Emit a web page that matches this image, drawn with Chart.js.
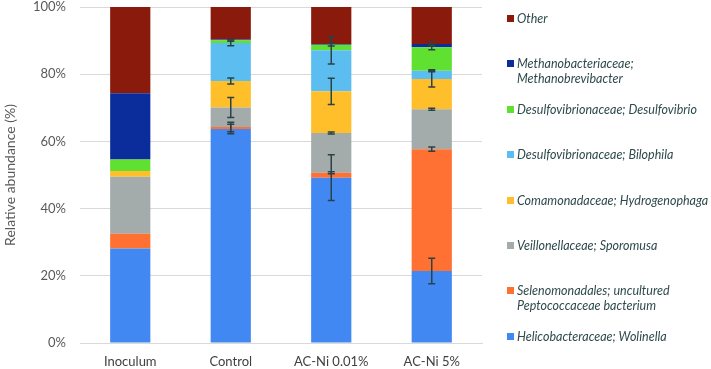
<!DOCTYPE html>
<html lang="en">
<head>
  <meta charset="UTF-8" />
  <title>Relative abundance</title>
  <script src="https://cdn.jsdelivr.net/npm/chart.js"></script>
  <style>
    body {
      margin: 0;
      padding: 0;
      background: #ffffff;
      font-family: Lato, "Open Sans", sans-serif;
    }
    .wrap {
      position: relative;
      width: 711px;
      height: 369px;
    }
    #legend {
      position: absolute;
      left: 507px;
      top: 11px;
      margin: 0;
      padding: 0;
      list-style: none;
    }
    #legend li {
      height: 45.4px;
      display: flex;
      align-items: flex-start;
      font-size: 12.5px;
      line-height: 15px;
      font-style: italic;
      color: #2f4a4c;
    }
    #legend .box {
      width: 7px;
      height: 7px;
      margin-top: 4px;
      margin-right: 3px;
      flex: none;
    }
  </style>
</head>
<body>
  <div class="wrap">
    <canvas id="chart" width="711" height="369"></canvas>
    <ul id="legend"></ul>
  </div>

  <script>
    const categories = ['Inoculum', 'Control', 'AC-Ni 0.01%', 'AC-Ni 5%'];

    // stacked from bottom to top
    const seriesNames = [
      'Helicobacteraceae; Wolinella',
      'Selenomonadales; uncultured|Peptococcaceae bacterium',
      'Veillonellaceae; Sporomusa',
      'Comamonadaceae; Hydrogenophaga',
      'Desulfovibrionaceae; Bilophila',
      'Desulfovibrionaceae; Desulfovibrio',
      'Methanobacteriaceae;|Methanobrevibacter',
      'Other'
    ];
    const colors = ['#4188f3', '#ff7033', '#a3abab', '#ffbf2b', '#5cbef0', '#60e030', '#0b2d9c', '#8a1a0b'];

    const wolinella      = [28.1, 63.7, 49.2, 21.4];
    const selenomonadales = [4.4, 0.6, 1.5, 36.3];
    const sporomusa      = [17.0, 5.8, 11.8, 11.9];
    const hydrogenophaga = [1.7, 7.9, 12.4, 9.0];
    const bilophila      = [0, 11.3, 12.2, 2.4];
    const desulfovibrio  = [3.4, 0.8, 1.7, 7.0];
    const methano        = [19.7, 0.2, 0.2, 1.0];
    const other          = [25.7, 9.7, 11.0, 11.0];

    // error bars (±, percent) at the top of each segment
    const errWolinella      = [0, 1.4, 6.8, 3.8];
    const errSelenomonadales = [0, 1.4, 0.3, 0.6];
    const errSporomusa      = [0, 3.0, 0.3, 0.3];
    const errHydrogenophaga = [0, 0.9, 3.9, 2.4];
    const errBilophila      = [0, 0.85, 4.1, 0.3];
    const errDesulfovibrio  = [0, 0.3, 0.4, 0.7];
    const errMethano        = [0, 0, 0, 0.6];
    const errOther          = [0, 0, 0, 0];

    const yTicks = [0, 20, 40, 60, 80, 100];

    const values = [wolinella, selenomonadales, sporomusa, hydrogenophaga, bilophila, desulfovibrio, methano, other];
    const errors = [errWolinella, errSelenomonadales, errSporomusa, errHydrogenophaga, errBilophila, errDesulfovibrio, errMethano, errOther];

    const errorBars = {
      id: 'errorBars',
      afterDatasetsDraw(chart) {
        const ctx = chart.ctx;
        const y = chart.scales.y;
        ctx.save();
        ctx.strokeStyle = '#2b4247';
        ctx.lineWidth = 1.5;
        values.forEach((vals, i) => {
          const meta = chart.getDatasetMeta(i);
          vals.forEach((v, j) => {
            const e = errors[i][j];
            if (!e) return;
            let top = 0;
            for (let k = 0; k <= i; k++) top += values[k][j];
            const x = meta.data[j].x;
            const y1 = y.getPixelForValue(top + e);
            const y2 = y.getPixelForValue(top - e);
            ctx.beginPath();
            ctx.moveTo(x, y1); ctx.lineTo(x, y2);
            ctx.moveTo(x - 3.5, y1); ctx.lineTo(x + 3.5, y1);
            ctx.moveTo(x - 3.5, y2); ctx.lineTo(x + 3.5, y2);
            ctx.stroke();
          });
        });
        ctx.restore();
      }
    };

    const ctx = document.getElementById('chart').getContext('2d');
    const chart = new Chart(ctx, {
      type: 'bar',
      data: {
        labels: categories,
        datasets: values.map((vals, i) => ({
          label: seriesNames[i].replace('|', ' '),
          data: vals,
          backgroundColor: colors[i],
          borderWidth: 0,
          barPercentage: 0.4,
          categoryPercentage: 1
        }))
      },
      options: {
        responsive: false,
        animation: false,
        layout: { padding: { top: 7, right: 229, left: 0, bottom: 0 } },
        plugins: {
          legend: { display: false },
          tooltip: { enabled: false }
        },
        scales: {
          x: {
            stacked: true,
            grid: { display: false, drawTicks: false },
            border: { color: '#d9d9d9', width: 1 },
            ticks: {
              color: '#404040',
              padding: 11,
              font: { family: 'Lato', size: 13 }
            },
            afterFit(scale) { scale.height = 26; scale.paddingTop = 0; }
          },
          y: {
            stacked: true,
            min: 0,
            max: 100,
            afterBuildTicks(scale) { scale.ticks = yTicks.map(v => ({ value: v })); },
            grid: { color: '#d9d9d9', drawTicks: false },
            border: { display: false },
            ticks: {
              color: '#595959',
              padding: 14,
              font: { family: 'Lato', size: 13 },
              callback: v => v + '%'
            },
            title: {
              display: true,
              text: 'Relative abundance (%)',
              color: '#595959',
              padding: { top: 2, bottom: 0 },
              font: { family: 'Lato', size: 14 }
            },
            afterFit(scale) {
              scale.width = 80;
              scale.paddingTop = 0;
              scale.paddingBottom = 0;
            }
          }
        }
      },
      plugins: [errorBars]
    });

    // legend, top item = last series
    const legend = document.getElementById('legend');
    for (let i = seriesNames.length - 1; i >= 0; i--) {
      const li = document.createElement('li');
      const box = document.createElement('span');
      box.className = 'box';
      box.style.background = colors[i];
      const txt = document.createElement('span');
      txt.innerHTML = seriesNames[i].split('|').join('<br>');
      li.appendChild(box);
      li.appendChild(txt);
      legend.appendChild(li);
    }
  </script>
</body>
</html>
